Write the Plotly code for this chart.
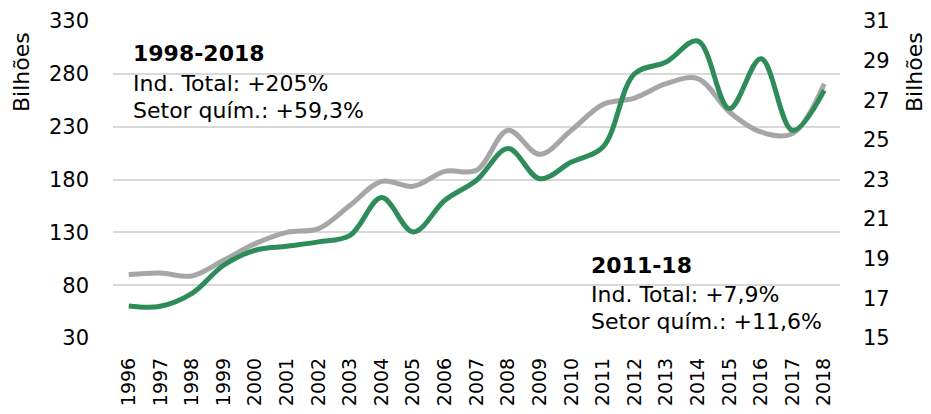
import plotly.graph_objects as go

years = [str(y) for y in range(1996, 2019)]
ind_total = [90, 91.5, 88.7, 103.5, 119.3, 130, 133.5, 155.6, 178.3, 173.6, 187.7, 188.7,
             226.6, 203.8, 226.6, 251, 257.1, 270.7, 275.5, 243.9, 225, 223.4, 270.5]
setor_quim = [16.62, 16.6, 17.25, 18.67, 19.43, 19.63, 19.85, 20.18, 22.09, 20.35, 21.95, 22.96,
              24.56, 23.04, 23.88, 24.64, 28.34, 28.93, 29.99, 26.58, 29.1, 25.48, 27.5]
left_ticks = [30, 80, 130, 180, 230, 280, 330]
right_ticks = [15, 17, 19, 21, 23, 25, 27, 29, 31]

FONT = "DejaVu Sans"
OFF = 8  # page body margin
W, H = 931 - OFF, 414 - OFF
# plot area in reference-pixel coordinates
X0, X1, Y0, Y1 = 113, 840, 21, 338
L, R, T, B = X0 - OFF, W - (X1 - OFF), Y0 - OFF, H - (Y1 - OFF)
pw, ph = W - L - R, H - T - B

def px(x):
    return (x - OFF - L) / pw

def py(y):
    return (H - B - (y - OFF)) / ph

fig = go.Figure()
fig.add_trace(go.Scatter(x=years, y=ind_total, mode="lines", name="Ind. Total",
                         line=dict(color="#A6A6A6", width=5, shape="spline", smoothing=1.0)))
fig.add_trace(go.Scatter(x=years, y=setor_quim, mode="lines", name="Setor químico", yaxis="y2",
                         line=dict(color="#2E8B5A", width=5, shape="spline", smoothing=1.0)))

annots = [
    ("<b>1998-2018</b>", 131, 53),
    ("Ind. Total: +205%", 131, 83),
    ("Setor quím.: +59,3%", 131, 110),
    ("<b>2011-18</b>", 589, 265),
    ("Ind. Total: +7,9%", 589, 294),
    ("Setor quím.: +11,6%", 589, 321),
]
ann = [dict(text=t, x=px(x), y=py(y), xref="paper", yref="paper",
            xanchor="left", yanchor="middle", showarrow=False,
            font=dict(size=22, family=FONT, color="black")) for t, x, y in annots]
ann.append(dict(text="Bilhões", textangle=-90, x=px(21), y=py(72), xref="paper", yref="paper",
                xanchor="center", yanchor="middle", showarrow=False,
                font=dict(size=22, family=FONT, color="black")))
ann.append(dict(text="Bilhões", textangle=-90, x=px(914), y=py(72), xref="paper", yref="paper",
                xanchor="center", yanchor="middle", showarrow=False,
                font=dict(size=22, family=FONT, color="black")))

fig.update_layout(
    width=W, height=H,
    margin=dict(l=L, r=R, t=T, b=B, autoexpand=False),
    paper_bgcolor="white", plot_bgcolor="white",
    showlegend=False,
    font=dict(family=FONT, size=21, color="black"),
    xaxis=dict(type="category", range=[-0.5, 22.5], tickangle=-90, showgrid=False,
               showline=False, ticks="", tickfont=dict(size=19), ticklabelstandoff=15,
               automargin=False),
    yaxis=dict(range=[30, 330], tickvals=left_ticks, showgrid=True, gridcolor="#D9D9D9",
               gridwidth=1.5, zeroline=False, showline=False, ticks="",
               tickfont=dict(size=21), ticklabelstandoff=23, automargin=False),
    yaxis2=dict(range=[15, 31], tickvals=right_ticks, overlaying="y", side="right",
                showgrid=False, zeroline=False, showline=False, ticks="",
                tickfont=dict(size=21), ticklabelstandoff=22, automargin=False),
    annotations=ann,
)

fig.write_html("out.html")
